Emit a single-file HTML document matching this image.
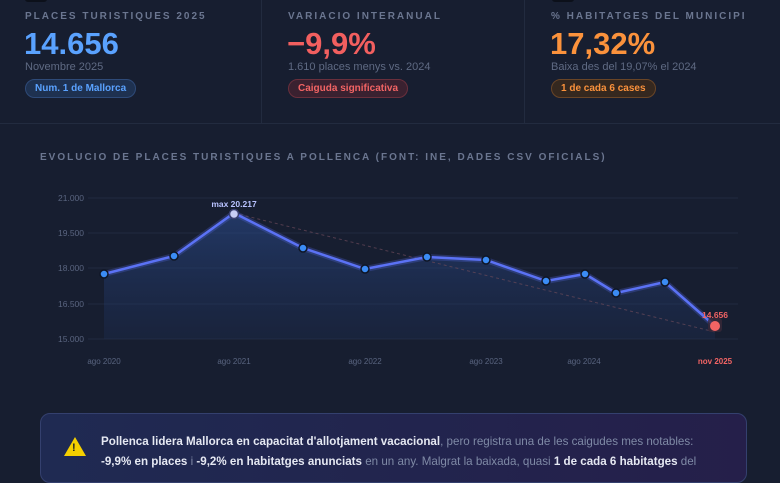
<!DOCTYPE html>
<html><head><meta charset="utf-8"><style>
*{margin:0;padding:0;box-sizing:border-box}
body{width:780px;height:470px;overflow:hidden;background:#171e30;font-family:"Liberation Sans",sans-serif;position:relative}
.lbl{position:absolute;top:11px;font-size:10px;letter-spacing:2px;color:#6b7690;font-weight:bold;white-space:nowrap}
.big{position:absolute;top:26px;font-size:31px;font-weight:bold;white-space:nowrap}
.sub{position:absolute;top:61px;font-size:11px;color:#5f6a83;white-space:nowrap}
.pill{position:absolute;top:79px;height:19px;border-radius:10px;font-size:10px;font-weight:bold;padding:0 9px;line-height:17px;white-space:nowrap}
.ico{position:absolute;top:-6px;width:22px;height:8px;background:#0c101a;border-radius:3px}
</style></head><body>
<div style="position:absolute;left:0;top:123px;width:780px;height:1px;background:#222b3f"></div>
<div style="position:absolute;left:261px;top:0;width:1px;height:123px;background:#222b3f"></div>
<div style="position:absolute;left:524px;top:0;width:1px;height:123px;background:#222b3f"></div>

<div class="ico" style="left:25px"></div>
<div class="lbl" style="left:25px">PLACES TURISTIQUES 2025</div>
<div class="big" style="left:24px;color:#5aa2ff">14.656</div>
<div class="sub" style="left:25px">Novembre 2025</div>
<div class="pill" style="left:25px;color:#5aa2ff;background:#1e3150;border:1px solid #2e4a78">Num. 1 de Mallorca</div>

<div class="lbl" style="left:288px">VARIACIO INTERANUAL</div>
<div class="big" style="left:287px;color:#f25f5f">−9,9%</div>
<div class="sub" style="left:288px">1.610 places menys vs. 2024</div>
<div class="pill" style="left:288px;color:#f26464;background:#3a2130;border:1px solid #6a2f3c">Caiguda significativa</div>

<div class="ico" style="left:552px"></div>
<div class="lbl" style="left:551px">% HABITATGES DEL MUNICIPI</div>
<div class="big" style="left:550px;color:#fb923c">17,32%</div>
<div class="sub" style="left:551px">Baixa des del 19,07% el 2024</div>
<div class="pill" style="left:551px;color:#fb923c;background:#35281f;border:1px solid #6a4526">1 de cada 6 cases</div>

<div style="position:absolute;left:40px;top:152px;font-size:10px;letter-spacing:2px;color:#6b7690;font-weight:bold;white-space:nowrap">EVOLUCIO DE PLACES TURISTIQUES A POLLENCA (FONT: INE, DADES CSV OFICIALS)</div>

<svg style="position:absolute;left:0;top:0" width="780" height="470">
<defs><linearGradient id="g" x1="0" y1="0" x2="0" y2="1"><stop offset="0" stop-color="#2a4a8a" stop-opacity=".6"/><stop offset="1" stop-color="#1f3360" stop-opacity=".25"/></linearGradient></defs>
<g stroke="#222b40" stroke-width="1">
<line x1="88" y1="198" x2="738" y2="198"/><line x1="88" y1="233" x2="738" y2="233"/><line x1="88" y1="268" x2="738" y2="268"/><line x1="88" y1="304" x2="738" y2="304"/><line x1="88" y1="339" x2="738" y2="339"/></g>
<g font-size="8.5" fill="#5a6580" text-anchor="end">
<text x="84" y="201">21.000</text><text x="84" y="236">19.500</text><text x="84" y="271">18.000</text><text x="84" y="307">16.500</text><text x="84" y="342">15.000</text></g>
<g font-size="8" fill="#5a6580" text-anchor="middle">
<text x="104" y="364">ago 2020</text><text x="234" y="364">ago 2021</text><text x="365" y="364">ago 2022</text><text x="486" y="364">ago 2023</text><text x="584" y="364">ago 2024</text></g>
<text x="715" y="364" font-size="8" fill="#f26464" font-weight="bold" text-anchor="middle">nov 2025</text>
<path d="M104,274 L174,256 L234,213 L303,248 L365,269 L427,257 L486,260 L546,281 L585,274 L616,293 L665,282 L715,326 L715,339 L104,339Z" fill="url(#g)"/>
<line x1="234" y1="213" x2="715" y2="332" stroke="#6b4a5a" stroke-width="1" stroke-dasharray="3,3" opacity=".7"/>
<polyline points="104,274 174,256 234,213 303,248 365,269 427,257 486,260 546,281 585,274 616,293 665,282 715,326" fill="none" stroke="#5b6ef5" stroke-width="6" opacity=".25"/>
<polyline points="104,274 174,256 234,213 303,248 365,269 427,257 486,260 546,281 585,274 616,293 665,282 715,326" fill="none" stroke="#5b72f5" stroke-width="2.5"/>
<g fill="#3b8cf5" stroke="#0f1626" stroke-width="1.5">
<circle cx="104" cy="274" r="4"/><circle cx="174" cy="256" r="4"/><circle cx="303" cy="248" r="4"/><circle cx="365" cy="269" r="4"/><circle cx="427" cy="257" r="4"/><circle cx="486" cy="260" r="4"/><circle cx="546" cy="281" r="4"/><circle cx="585" cy="274" r="4"/><circle cx="616" cy="293" r="4"/><circle cx="665" cy="282" r="4"/></g>
<circle cx="234" cy="214" r="4.5" fill="#c7cdf5" stroke="#3a3f70" stroke-width="1.5"/>
<text x="234" y="207" font-size="8.5" font-weight="bold" fill="#b9c3ff" text-anchor="middle">max 20.217</text>
<rect x="708" y="318" width="14" height="14" rx="3" fill="#3a2838" opacity=".8"/>
<circle cx="715" cy="326" r="5" fill="#f26464"/>
<text x="715" y="318" font-size="8.5" font-weight="bold" fill="#f26464" text-anchor="middle">14.656</text>
</svg>

<div style="position:absolute;left:40px;top:413px;width:707px;height:70px;border-radius:10px;background:linear-gradient(90deg,#1f2a52,#251f4a);border:1px solid #34406e"></div>
<div style="position:absolute;left:64px;top:437px;width:0;height:0;border-left:11px solid transparent;border-right:11px solid transparent;border-bottom:19px solid #f5d000"></div>
<div style="position:absolute;left:72px;top:442px;font-size:11px;font-weight:bold;color:#222">!</div>
<div style="position:absolute;left:101px;top:432px;width:650px;font-size:11.6px;line-height:20px;color:#7f8aa6;white-space:nowrap">
<b style="color:#e5e8f2">Pollenca lidera Mallorca en capacitat d'allotjament vacacional</b>, pero registra una de les caigudes mes notables:<br>
<b style="color:#e5e8f2">-9,9% en places</b> i <b style="color:#e5e8f2">-9,2% en habitatges anunciats</b> en un any. Malgrat la baixada, quasi <b style="color:#e5e8f2">1 de cada 6 habitatges</b> del</div>
</body></html>
